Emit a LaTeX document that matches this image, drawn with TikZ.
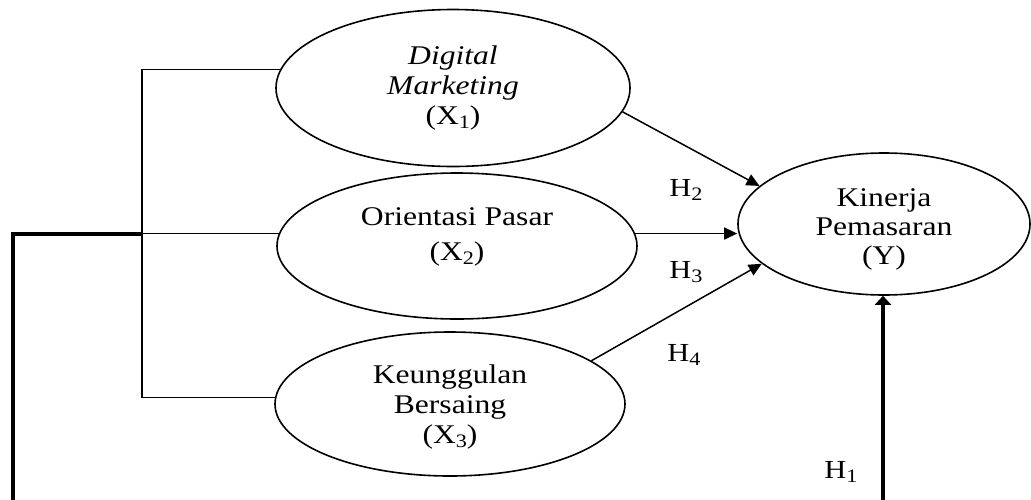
\documentclass[tikz,border=0pt]{standalone}
\usepackage{fontspec}
\setmainfont{Liberation Serif}[FakeStretch=1.17]
\usetikzlibrary{shapes.geometric,arrows.meta}
\newcommand\lowsub[1]{\raisebox{-0.3ex}{\fontsize{19}{19}\selectfont #1}}
\begin{document}
\begin{tikzpicture}[x=1pt,y=-1pt,
  latent/.style={draw,ellipse,line width=1.6pt,inner sep=0pt},
  lbl/.style={align=center,inner sep=0pt,font=\fontsize{27}{30}\selectfont},
  hlbl/.style={inner sep=0pt,font=\fontsize{26}{28}\selectfont},
  hyp/.style={line width=1.5pt,-{Triangle[length=13pt,width=12pt]}},
  thin/.style={line width=1.2pt},
  heavy/.style={line width=4pt},
  heavyarrow/.style={line width=4pt,-{Triangle[length=9pt,width=16pt]}}]
\useasboundingbox (0,0) rectangle (1031,499);
\clip (0,0) rectangle (1031,499);
% ellipses
\node[latent,minimum width=354pt,minimum height=157pt] (x1) at (453,88) {};
\node[latent,minimum width=360pt,minimum height=146pt] (x2) at (457,246) {};
\node[latent,minimum width=350pt,minimum height=144pt] (x3) at (450,404) {};
\node[latent,minimum width=292pt,minimum height=142pt] (y) at (884,224) {};
% texts
\node[lbl] (x1t) at (453,88) {\itshape Digital\\\itshape Marketing\\(X\lowsub{1})};
\node[lbl,font=\fontsize{27}{35}\selectfont] (x2t) at (457,237) {Orientasi Pasar\\(X\lowsub{2})};
\node[lbl] (x3t) at (450,407) {Keunggulan\\Bersaing\\(X\lowsub{3})};
\node[lbl,font=\fontsize{27}{29}\selectfont] (yt) at (884,229) {Kinerja\\Pemasaran\\(Y)};
% hypothesis labels
\node[hlbl] (h2) at (686,190) {H\lowsub{2}};
\node[hlbl] (h3) at (686,272) {H\lowsub{3}};
\node[hlbl] (h4) at (684,355) {H\lowsub{4}};
\node[hlbl] (h1) at (841,472) {H\lowsub{1}};
% bracket
\coordinate (bx) at (142,0);
\draw[thin] (x1.174) -- (x1.174 -| bx) -- (x3.178 -| bx) -- (x3.178);
\draw[thin] (x2.176) -- (x2.176 -| bx);
% thick line
\coordinate (lx) at (13,0);
\coordinate (lb) at (13,520);
\draw[heavy] (x2.176 -| bx) -- (x2.176 -| lx) -- (lb);
% arrows
\draw[hyp] (x1.-8) -- (y.163.6);
\draw[hyp] (x2.4.5) -- (x2.4.5 -| y.west);
\draw[hyp] (x3.17) -- (y.198);
\coordinate (hb) at (883,520);
\draw[heavyarrow] (hb) -- (hb |- y.south);
\end{tikzpicture}
\end{document}
